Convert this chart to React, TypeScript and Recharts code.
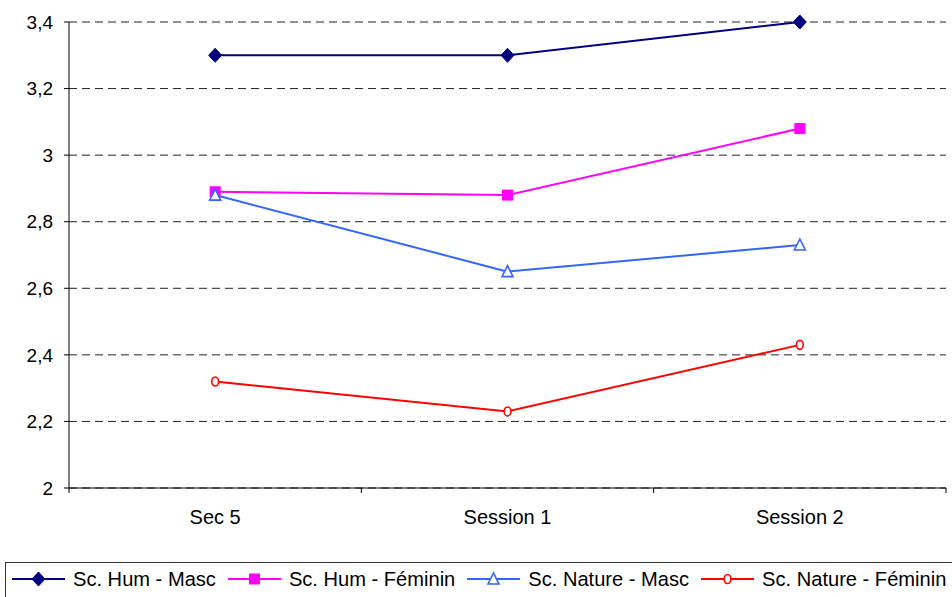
import React from 'react';
import { LineChart, Line, XAxis, YAxis, CartesianGrid } from 'recharts';

// Categories along the x axis
const categories = ['Sec 5', 'Session 1', 'Session 2'];

// Series values, one entry per category
const humMasc = [3.3, 3.3, 3.4];
const humFem = [2.89, 2.88, 3.08];
const natMasc = [2.88, 2.65, 2.73];
const natFem = [2.32, 2.23, 2.43];

// Value axis ticks
const yTicks = [2, 2.2, 2.4, 2.6, 2.8, 3, 3.2, 3.4];

const FONT = '"Liberation Sans", Arial, Helvetica, sans-serif';

// Each category sits in the middle of its band; band edges are at whole numbers
const data = categories.map((name, i) => ({
  name,
  pos: i + 0.5,
  humMasc: humMasc[i],
  humFem: humFem[i],
  natMasc: natMasc[i],
  natFem: natFem[i],
}));

const bandEdges = categories.map((_, i) => i).concat(categories.length);
const xTicks: number[] = [];
bandEdges.forEach((e, i) => {
  xTicks.push(e);
  if (i < categories.length) xTicks.push(e + 0.5);
});

type MarkerKind = 'diamond' | 'square' | 'triangle' | 'circle';

function Marker({ kind, cx, cy, color }: { kind: MarkerKind; cx: number; cy: number; color: string }) {
  if (kind === 'diamond') {
    return <polygon points={`${cx},${cy - 7} ${cx + 6.5},${cy} ${cx},${cy + 7} ${cx - 6.5},${cy}`} fill={color} stroke={color} strokeWidth={1} />;
  }
  if (kind === 'square') {
    return <rect x={cx - 5.5} y={cy - 5.5} width={11} height={11} fill={color} />;
  }
  if (kind === 'triangle') {
    return <polygon points={`${cx},${cy - 6} ${cx + 5.5},${cy + 5} ${cx - 5.5},${cy + 5}`} fill="#fff" stroke={color} strokeWidth={1.6} />;
  }
  return <ellipse cx={cx} cy={cy} rx={3.4} ry={4.5} fill="#fff" stroke={color} strokeWidth={1.6} />;
}

const series: { key: string; label: string; color: string; marker: MarkerKind }[] = [
  { key: 'humMasc', label: 'Sc. Hum - Masc', color: '#000080', marker: 'diamond' },
  { key: 'humFem', label: 'Sc. Hum - Féminin', color: '#FF00FF', marker: 'square' },
  { key: 'natMasc', label: 'Sc. Nature - Masc', color: '#3366FF', marker: 'triangle' },
  { key: 'natFem', label: 'Sc. Nature - Féminin', color: '#FF0000', marker: 'circle' },
];

function XTick(props: any) {
  const { x, y, payload } = props;
  const v = payload.value as number;
  if (Number.isInteger(v)) {
    return <line x1={x} x2={x} y1={y} y2={y + 5} stroke="#000" strokeWidth={1} />;
  }
  return (
    <text x={x} y={y + 36} textAnchor="middle" fontSize={20} fontFamily={FONT} fill="#000">
      {categories[Math.floor(v)]}
    </text>
  );
}

function LegendBox() {
  return (
    <div
      style={{
        position: 'absolute',
        left: 5,
        top: 562,
        width: 980,
        height: 40,
        border: '1px solid #333',
        boxSizing: 'border-box',
        display: 'flex',
        alignItems: 'flex-start',
        paddingTop: 3,
        paddingLeft: 6,
        fontFamily: FONT,
        fontSize: 20.1,
        color: '#000',
        whiteSpace: 'nowrap',
      }}
    >
      {series.map((s) => (
        <div key={s.key} style={{ display: 'flex', alignItems: 'center', marginRight: 12 }}>
          <svg width={53} height={26} style={{ marginRight: 8 }}>
            <line x1={0} x2={53} y1={13} y2={13} stroke={s.color} strokeWidth={2} />
            <Marker kind={s.marker} cx={26.5} cy={13} color={s.color} />
          </svg>
          <span>{s.label}</span>
        </div>
      ))}
    </div>
  );
}

export default function App() {
  return (
    <div
      style={{
        position: 'absolute',
        left: 0,
        top: 0,
        width: 952,
        height: 597,
        background: '#fff',
        overflow: 'hidden',
      }}
    >
      <LineChart
        width={952}
        height={597}
        data={data}
        margin={{ top: 22, right: 6, bottom: 59, left: 0 }}
      >
        <CartesianGrid vertical={false} stroke="#222" strokeDasharray="8 5" />
        <XAxis
          dataKey="pos"
          type="number"
          domain={[0, categories.length]}
          ticks={xTicks}
          interval={0}
          tickLine={false}
          tickSize={0}
          tickMargin={0}
          height={50}
          axisLine={{ stroke: '#000', strokeWidth: 1 }}
          tick={<XTick />}
        />
        <YAxis
          type="number"
          domain={[2, 3.4]}
          ticks={yTicks}
          interval={0}
          width={69}
          tickSize={5}
          tickMargin={11}
          axisLine={{ stroke: '#000', strokeWidth: 1 }}
          tickLine={{ stroke: '#000', strokeWidth: 1 }}
          tick={{ fill: '#000', fontSize: 19, fontFamily: FONT }}
          tickFormatter={(v: number) => String(v).replace('.', ',')}
        />
        {series.map((s) => (
          <Line
            key={s.key}
            type="linear"
            dataKey={s.key}
            stroke={s.color}
            strokeWidth={2}
            isAnimationActive={false}
            dot={(p: any) => (
              <Marker key={`${s.key}-${p.index}`} kind={s.marker} cx={p.cx} cy={p.cy} color={s.color} />
            )}
            activeDot={false}
          />
        ))}
      </LineChart>
      <LegendBox />
    </div>
  );
}
